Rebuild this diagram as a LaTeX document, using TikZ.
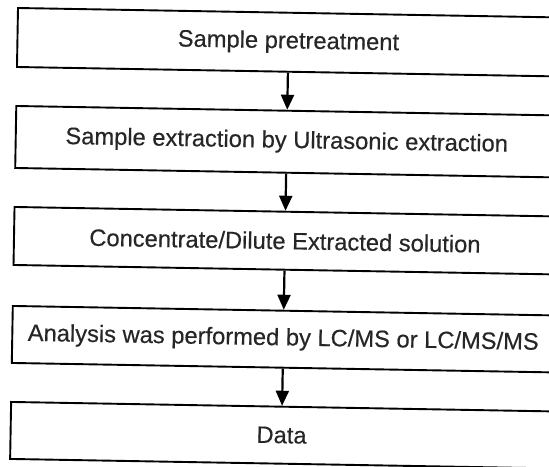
\documentclass[tikz,border=0pt]{standalone}
\usepackage{fontspec}
\setmainfont{Liberation Sans}
\newfontfamily\boxfont{Liberation Sans}[FakeBold=0.35]
\usetikzlibrary{arrows.meta}
\tikzset{
  stepbox/.style={draw=black, line width=0.95pt, inner sep=0pt, minimum width=271pt,
    text=black!85, font=\boxfont\fontsize{11.85}{14}\selectfont, transform shape},
  flowarrow/.style={line width=1.1pt, draw=black, -{Triangle[width=6.5pt,length=7.5pt]}}
}
\begin{document}
\begin{tikzpicture}[x=0.5pt,y=-0.5pt]
\clip (0,0) rectangle (549,466);
\fill[white] (0,0) rectangle (549,466);
\begin{scope}[rotate around={-1:(18,8)}]
\node[stepbox, minimum height=29.5pt] (b1) at (289,37.5) {Sample pretreatment};
\node[stepbox, minimum height=31pt] (b2) at (289,137) {Sample extraction by Ultrasonic extraction};
\node[stepbox, minimum height=29pt] (b3) at (289,236) {Concentrate/Dilute Extracted solution};
\node[stepbox, minimum height=28.5pt] (b4) at (289,334.5) {Analysis was performed by LC/MS or LC/MS/MS};
\node[stepbox, minimum height=28.5pt] (b5) at (289,430.5) {Data};
\draw[flowarrow] (b1.south) -- (b2.north);
\draw[flowarrow] (b2.south) -- (b3.north);
\draw[flowarrow] (b3.south) -- (b4.north);
\draw[flowarrow] (b4.south) -- (b5.north);
\end{scope}
\end{tikzpicture}
\end{document}
